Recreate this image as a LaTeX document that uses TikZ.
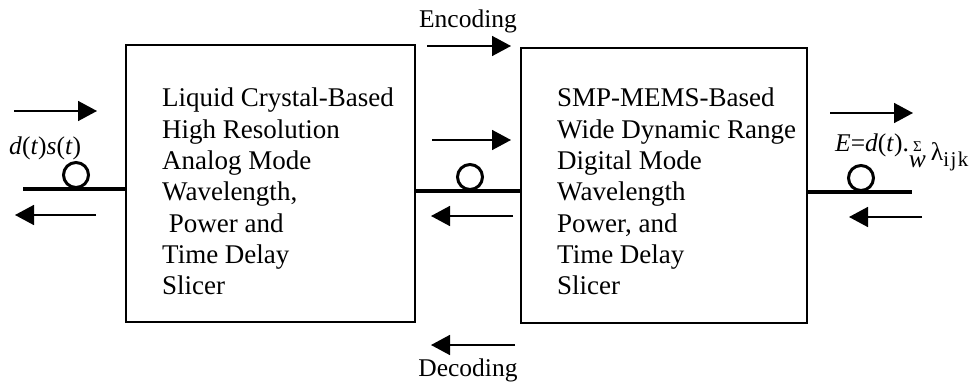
\documentclass[tikz,border=0pt]{standalone}
\usepackage{fontspec}
\setmainfont{Liberation Serif}
\usetikzlibrary{arrows.meta}

\begin{document}
\begin{tikzpicture}[x=1pt,y=-1pt,
  slicer/.style={draw, line width=1.6pt, inner sep=0pt},
  slicertext/.style={anchor=north west, align=left, font=\fontsize{27}{31.3}\selectfont, inner sep=0pt},
  fiber/.style={line width=3.2pt},
  loopring/.style={circle, draw, line width=3pt, minimum size=25pt, inner sep=0pt},
  flow/.style={line width=1.6pt, -{Triangle[length=19pt,width=20pt]}},
  label/.style={font=\fontsize{25.5}{30}\selectfont, inner sep=0pt}]
\useasboundingbox (0,0) rectangle (977,385);

% the two slicer stages
\node[slicer, minimum width=289pt, minimum height=277pt] (lc) at (270.5,183.5) {};
\node[slicer, minimum width=286pt, minimum height=275pt] (mems) at (664,185.5) {};
\node[slicertext] (lctext) at (162,88) {Liquid Crystal-Based\\High Resolution\\Analog Mode\\Wavelength,\\\ Power and\\Time Delay\\Slicer};
\node[slicertext] (memstext) at (557,88) {SMP-MEMS-Based\\Wide Dynamic Range\\Digital Mode\\Wavelength\\Power, and\\Time Delay\\Slicer};

% fiber ports
\coordinate (inend) at (23,189);
\coordinate (lcin) at (126,189);
\coordinate (lcout) at (415,191);
\coordinate (memsin) at (521,191);
\coordinate (memsout) at (807,192);
\coordinate (outend) at (912,192);
\draw[fiber] (inend) -- (lcin);
\draw[fiber] (lcout) -- (memsin);
\draw[fiber] (memsout) -- (outend);
\node[loopring, anchor=south] (ringin) at (76,189) {};
\node[loopring, anchor=south] (ringmid) at (470,191) {};
\node[loopring, anchor=south] (ringout) at (861,192) {};

% signal directions
\coordinate (a1s) at (14,111);  \coordinate (a1e) at (97,111);
\coordinate (a2s) at (96,215);  \coordinate (a2e) at (15,215);
\coordinate (a3s) at (432,140); \coordinate (a3e) at (511,140);
\coordinate (a4s) at (513,216); \coordinate (a4e) at (431,216);
\coordinate (a5s) at (427,46);  \coordinate (a5e) at (511,46);
\coordinate (a6s) at (515,345); \coordinate (a6e) at (431,345);
\coordinate (a7s) at (830,113); \coordinate (a7e) at (913,113);
\coordinate (a8s) at (922,217); \coordinate (a8e) at (849,217);
\draw[flow] (a1s) -- (a1e);
\draw[flow] (a2s) -- (a2e);
\draw[flow] (a3s) -- (a3e);
\draw[flow] (a4s) -- (a4e);
\draw[flow] (a5s) -- (a5e);
\draw[flow] (a6s) -- (a6e);
\draw[flow] (a7s) -- (a7e);
\draw[flow] (a8s) -- (a8e);

% labels
\node[label, anchor=base] (enc) at (468,28) {Encoding};
\node[label, anchor=base] (dec) at (468,376) {Decoding};
\node[label, anchor=base west] (sig) at (9,154) {\textit{d}(\textit{t})\textit{s}(\textit{t})};
% output field: small sum sign over a hanging w, then the lowered lambda
\node[label, anchor=base west] (eq) at (835,152)
  {\textit{E}=\textit{d}(\textit{t}).\makebox[0pt][l]{\makebox[17pt][c]{\fontsize{15}{15}\selectfont Σ}}\raisebox{-16pt}{\textit{w}}\kern5pt\raisebox{-9pt}{λ}\raisebox{-14pt}{\fontsize{21}{21}\selectfont i\kern1.5pt j\kern1.5pt k}};
\end{tikzpicture}
\end{document}
